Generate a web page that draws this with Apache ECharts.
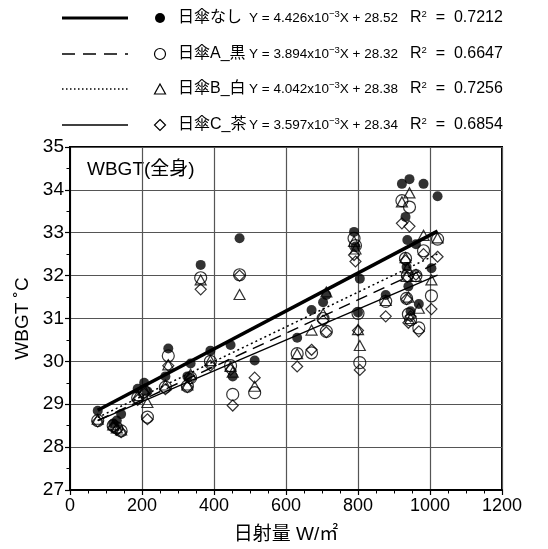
<!DOCTYPE html>
<html><head><meta charset="utf-8">
<script src="https://cdn.jsdelivr.net/npm/echarts@6/dist/echarts.min.js"></script>
<style>html,body{margin:0;padding:0;background:#fff}#c{width:548px;height:549px}</style>
</head><body><div id="c"></div>
<script>
// Solar radiation (W/m2) for each measurement
const xVals = [77,120,130,142,188,206,215,265,273,326,335,363,390,446,452,471,513,631,671,703,712,789,793,800,805,877,922,932,935,937,940,943,946,961,969,982,1004,1021];
// WBGT values per series
const yNone = [28.85,28.55,28.62,28.77,29.36,29.5,29.3,29.65,30.3,29.65,29.95,32.25,30.25,30.38,29.65,32.87,30.02,30.55,31.2,31.38,31.55,33.02,32.68,31.14,31.93,31.55,34.14,33.37,32.2,32.83,31.75,34.25,31.17,32.73,31.34,34.14,32.17,33.85];
const yA    = [28.62,28.5,28.45,28.38,29.15,29.3,28.7,29.4,30.13,29.42,29.62,31.95,30.0,29.9,29.23,32.02,29.27,30.18,30.2,31.0,30.7,32.87,32.7,31.12,29.97,31.4,33.75,32.4,31.47,32.0,31.1,33.6,30.97,32.0,30.78,32.58,31.53,32.85];
const yB    = [28.65,28.52,28.45,28.4,29.2,29.35,29.04,29.45,29.92,29.45,29.7,31.9,30.02,29.88,29.75,31.56,29.42,30.18,30.73,31.11,31.62,32.8,32.62,30.74,30.37,31.42,33.72,32.42,31.98,32.18,31.5,33.93,31.0,31.98,31.24,32.94,31.9,32.88];
const yC    = [28.6,28.46,28.4,28.35,29.1,29.25,28.65,29.35,29.9,29.4,29.6,31.68,29.9,29.8,28.97,32.0,29.62,29.88,30.27,30.95,30.68,32.48,32.33,30.72,29.8,31.05,33.22,32.35,31.45,31.97,30.9,33.15,31.05,32.02,30.7,32.5,31.22,32.44];
// Regression lines
const seriesNames = ['日傘なし','日傘A_黒','日傘B_白','日傘C_茶'];
const slopesE3 = [4.426,3.894,4.042,3.597];
const intercepts = [28.52,28.32,28.38,28.34];
const r2 = ['0.7212','0.6647','0.7256','0.6854'];
const fitRange = [77,1021];
const xTicks = [0,200,400,600,800,1000,1200];
const yTicks = [27,28,29,30,31,32,33,34,35];

const chart = echarts.init(document.getElementById('c'));
const FONT = '"Liberation Sans","Noto Sans CJK JP",Arial,sans-serif';
const yArr = [yNone,yA,yB,yC];
const symbols = ['circle','circle','triangle','diamond'];
const symSizes = [10,12,[11,10],[11,11]];
const lineStyles = [
  {width:3.5,type:'solid'},
  {width:1.5,type:[12,7]},
  {width:1.5,type:[2,3]},
  {width:1.3,type:'solid'}
];

const series = [];
[3,2,1,0].forEach(i=>{
  series.push({
    type:'scatter', name:seriesNames[i],
    data:xVals.map((x,k)=>[x,yArr[i][k]]),
    symbol:symbols[i], symbolSize:symSizes[i],
    itemStyle: i===0 ? {color:'#000'} : {color:'rgba(255,255,255,0)',borderColor:'#000',borderWidth:1.2},
    z:3, silent:true
  });
});
[0,1,2,3].forEach(i=>{
  series.push({
    type:'line', name:'fit'+i,
    data:fitRange.map(x=>[x, intercepts[i]+slopesE3[i]*1e-3*x]),
    showSymbol:false, symbol:'none',
    lineStyle:Object.assign({color:'#000'},lineStyles[i]),
    z:4, silent:true
  });
});

const rowY = [18,54,89,125];
const graphic = [];
const supRich = {s:{fontSize:9.5,padding:[0,0,8,0],fontFamily:FONT}};
rowY.forEach((y,i)=>{
  const ls = lineStyles[i];
  graphic.push({type:'line',shape:{x1:62,y1:y,x2:128,y2:y},style:{stroke:'#000',lineWidth:i===0?3:ls.width,lineDash:i===1?[13,8]:(i===2?[1.5,2.5]:null)}});
  graphic.push({type:'text',style:{text:seriesNames[i],x:178,y:y,verticalAlign:'middle',font:'16px '+FONT,fill:'#000'}});
  graphic.push({type:'text',style:{text:'Y = '+slopesE3[i].toFixed(3)+'x10{s|−3}X + '+intercepts[i].toFixed(2),x:249,y:y,verticalAlign:'middle',font:'13.5px '+FONT,fill:'#000',rich:supRich}});
  graphic.push({type:'text',style:{text:'R{s|2}  =  '+r2[i],x:410,y:y,verticalAlign:'middle',font:'16px '+FONT,fill:'#000',rich:supRich}});
});
graphic.push({type:'circle',shape:{cx:160,cy:rowY[0],r:5},style:{fill:'#000'}});
graphic.push({type:'circle',shape:{cx:160,cy:rowY[1],r:5.5},style:{fill:'none',stroke:'#000',lineWidth:1.2}});
graphic.push({type:'polygon',shape:{points:[[160,rowY[2]-5],[165.5,rowY[2]+5],[154.5,rowY[2]+5]]},style:{fill:'none',stroke:'#000',lineWidth:1.2}});
graphic.push({type:'polygon',shape:{points:[[160,rowY[3]-5.5],[165.5,rowY[3]],[160,rowY[3]+5.5],[154.5,rowY[3]]]},style:{fill:'none',stroke:'#000',lineWidth:1.2}});
graphic.push({type:'text',style:{text:'WBGT(全身)',x:87,y:170,verticalAlign:'middle',font:'19px '+FONT,fill:'#000'}});

chart.setOption({
  animation:false,
  backgroundColor:'#fff',
  grid:{left:70,right:46,top:147,bottom:58,show:true,borderColor:'#000',borderWidth:2,backgroundColor:'transparent'},
  xAxis:{
    type:'value',min:xTicks[0],max:xTicks[xTicks.length-1],interval:200,
    name:'日射量 W/㎡',nameLocation:'middle',nameGap:35,
    nameTextStyle:{fontFamily:FONT,fontSize:19,color:'#000'},
    axisLine:{lineStyle:{color:'#000',width:2}},
    axisTick:{inside:false,length:5,lineStyle:{color:'#000',width:1.2}},
    minorTick:{show:true,splitNumber:4,length:3.5,lineStyle:{color:'#000',width:1}},
    axisLabel:{fontFamily:FONT,fontSize:18,color:'#000',margin:7,formatter:v=>String(v)},
    splitLine:{show:true,lineStyle:{color:'#555',width:1.2}}
  },
  yAxis:{
    type:'value',min:yTicks[0],max:yTicks[yTicks.length-1],interval:1,
    name:'WBGT ˚C',nameLocation:'middle',nameGap:36,nameRotate:90,
    nameTextStyle:{fontFamily:FONT,fontSize:19,color:'#000'},
    axisLine:{lineStyle:{color:'#000',width:2}},
    axisTick:{inside:false,length:5,lineStyle:{color:'#000',width:1.2}},
    minorTick:{show:true,splitNumber:2,length:3.5,lineStyle:{color:'#000',width:1}},
    axisLabel:{fontFamily:FONT,fontSize:19,color:'#000',margin:6,formatter:v=>String(v)},
    splitLine:{show:true,lineStyle:{color:'#555',width:1.2}}
  },
  graphic:graphic,
  series:series
});
</script></body></html>
